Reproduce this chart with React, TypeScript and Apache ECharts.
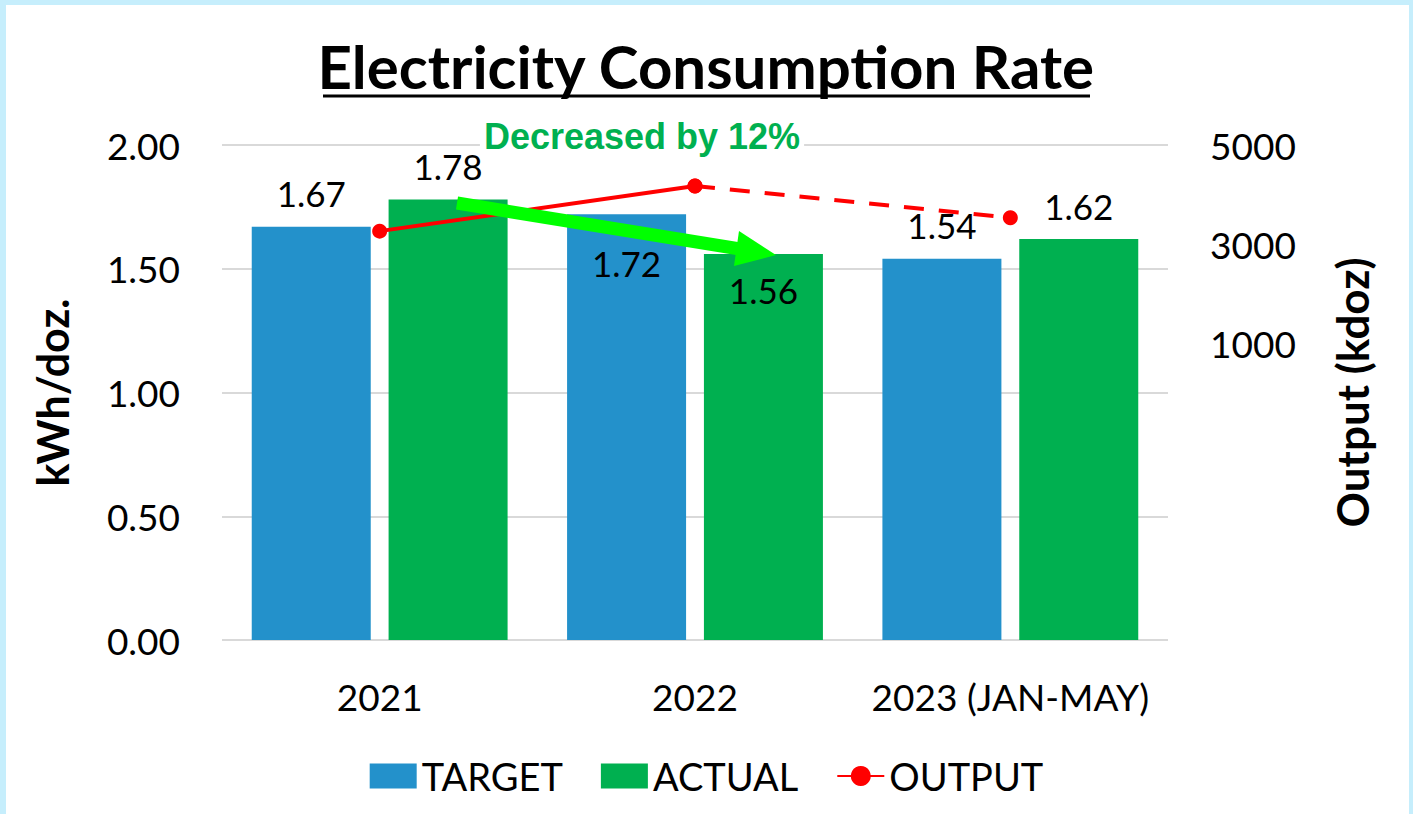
import React, { useEffect, useRef } from "react";
import * as echarts from "echarts";

const categories = ["2021", "2022", "2023 (JAN-MAY)"];
const targetValues = [1.67, 1.72, 1.54];
const actualValues = [1.78, 1.56, 1.62];
const outputValues = [3260, 4170, 3530];
const leftTicks = { min: 0, max: 2, interval: 0.5 };
const rightTicks = { min: -5000, max: 5000, interval: 2000 };

const FONT = "Lato";

export default function App() {
  const ref = useRef<HTMLDivElement>(null);
  useEffect(() => {
    document.body.style.margin = "0";
    const chart = echarts.init(ref.current!, null, { renderer: "svg" });
    const labelBase = { show: true, color: "#000", fontFamily: FONT, fontSize: 35, formatter: (p: any) => p.value.toFixed(2) };
    const targetData = targetValues.map((v, i) => ({
      value: v,
      label: i === 1 ? { position: "insideTop", distance: 31 } : { position: "top", distance: 16 },
    }));
    const actualData = actualValues.map((v, i) => ({
      value: v,
      label: i === 1 ? { position: "insideTop", distance: 19 } : { position: "top", distance: 16 },
    }));
    const solid = outputValues.map((v, i) => (i <= 1 ? v : null));
    const dashed = outputValues.map((v, i) => (i >= 1 ? v : null));
    chart.setOption({
      animation: false,
      backgroundColor: "#C6EEFC",
      grid: { left: 222, right: 245, top: 145, bottom: 174 },
      legend: {
        data: [
          { name: "TARGET", icon: "rect" },
          { name: "ACTUAL", icon: "rect" },
          { name: "OUTPUT" },
        ],
        left: "center",
        top: 752,
        itemWidth: 47,
        itemHeight: 25,
        itemGap: 38,
        textStyle: { fontFamily: FONT, fontSize: 38, color: "#000", padding: [0, 0, 0, 0] },
      },
      graphic: [
        { type: "rect", z: -10, silent: true, shape: { x: 6, y: 5, width: 1403, height: 820 }, style: { fill: "#fff" } },
        {
          type: "text", left: "center", top: 36,
          style: { text: "Electricity Consumption Rate", fontFamily: FONT, fontWeight: "bold", fontSize: 60, fill: "#000" },
        },
        { type: "line", shape: { x1: 323, y1: 96, x2: 1090, y2: 96 }, style: { stroke: "#000", lineWidth: 3 } },
        {
          type: "text", x: 642, y: 136, z: 50,
          style: {
            text: "Decreased by 12%", fontFamily: "Liberation Sans", fontWeight: "bold", fontSize: 36, fill: "#00B050",
            align: "center", verticalAlign: "middle", backgroundColor: "#fff", padding: [2, 4],
          },
        },
        { type: "line", z: 100, shape: { x1: 457, y1: 203, x2: 740, y2: 249 }, style: { stroke: "#00FF00", lineWidth: 13 } },
        { type: "polygon", z: 100, shape: { points: [[739, 231], [776, 255], [734, 266]] }, style: { fill: "#00FF00" } },
      ],
      xAxis: {
        type: "category",
        data: categories,
        axisLine: { show: false },
        axisTick: { show: false },
        axisLabel: { fontFamily: FONT, fontSize: 37, color: "#000", margin: 38, interval: 0, hideOverlap: false },
      },
      yAxis: [
        {
          type: "value",
          min: leftTicks.min, max: leftTicks.max, interval: leftTicks.interval,
          name: "kWh/doz.",
          nameLocation: "middle",
          nameGap: 148,
          nameTextStyle: { fontFamily: FONT, fontWeight: "bold", fontSize: 43, color: "#000" },
          axisLabel: { fontFamily: FONT, fontSize: 37, color: "#000", margin: 42, formatter: (v: number) => v.toFixed(2) },
          splitLine: { lineStyle: { color: "#D9D9D9", width: 2 } },
        },
        {
          type: "value",
          min: rightTicks.min, max: rightTicks.max, interval: rightTicks.interval,
          name: "Output (kdoz)",
          nameLocation: "middle",
          nameGap: 162,
          nameTextStyle: { fontFamily: FONT, fontWeight: "bold", fontSize: 44, color: "#000" },
          axisLabel: { fontFamily: FONT, fontSize: 37, color: "#000", margin: 42, formatter: (v: number) => (v >= 1000 ? String(v) : "") },
          splitLine: { show: false },
        },
      ],
      series: [
        { name: "TARGET", type: "bar", data: targetData, barWidth: 119, barGap: "15%", itemStyle: { color: "#2391CB" }, label: labelBase },
        { name: "ACTUAL", type: "bar", data: actualData, barWidth: 119, barGap: "15%", itemStyle: { color: "#00B050" }, label: labelBase },
        {
          name: "OUTPUT", type: "line", yAxisIndex: 1, data: solid, symbol: "circle", symbolSize: 15,
          itemStyle: { color: "#FF0000" }, lineStyle: { color: "#FF0000", width: 4 }, z: 5,
        },
        {
          name: "OUTPUT", type: "line", yAxisIndex: 1, data: dashed, symbol: "circle", symbolSize: 15,
          itemStyle: { color: "#FF0000" }, lineStyle: { color: "#FF0000", width: 4, type: [20, 15] }, z: 5,
        },
      ],
    });
    return () => chart.dispose();
  }, []);
  return <div ref={ref} style={{ width: 1413, height: 814 }} />;
}
